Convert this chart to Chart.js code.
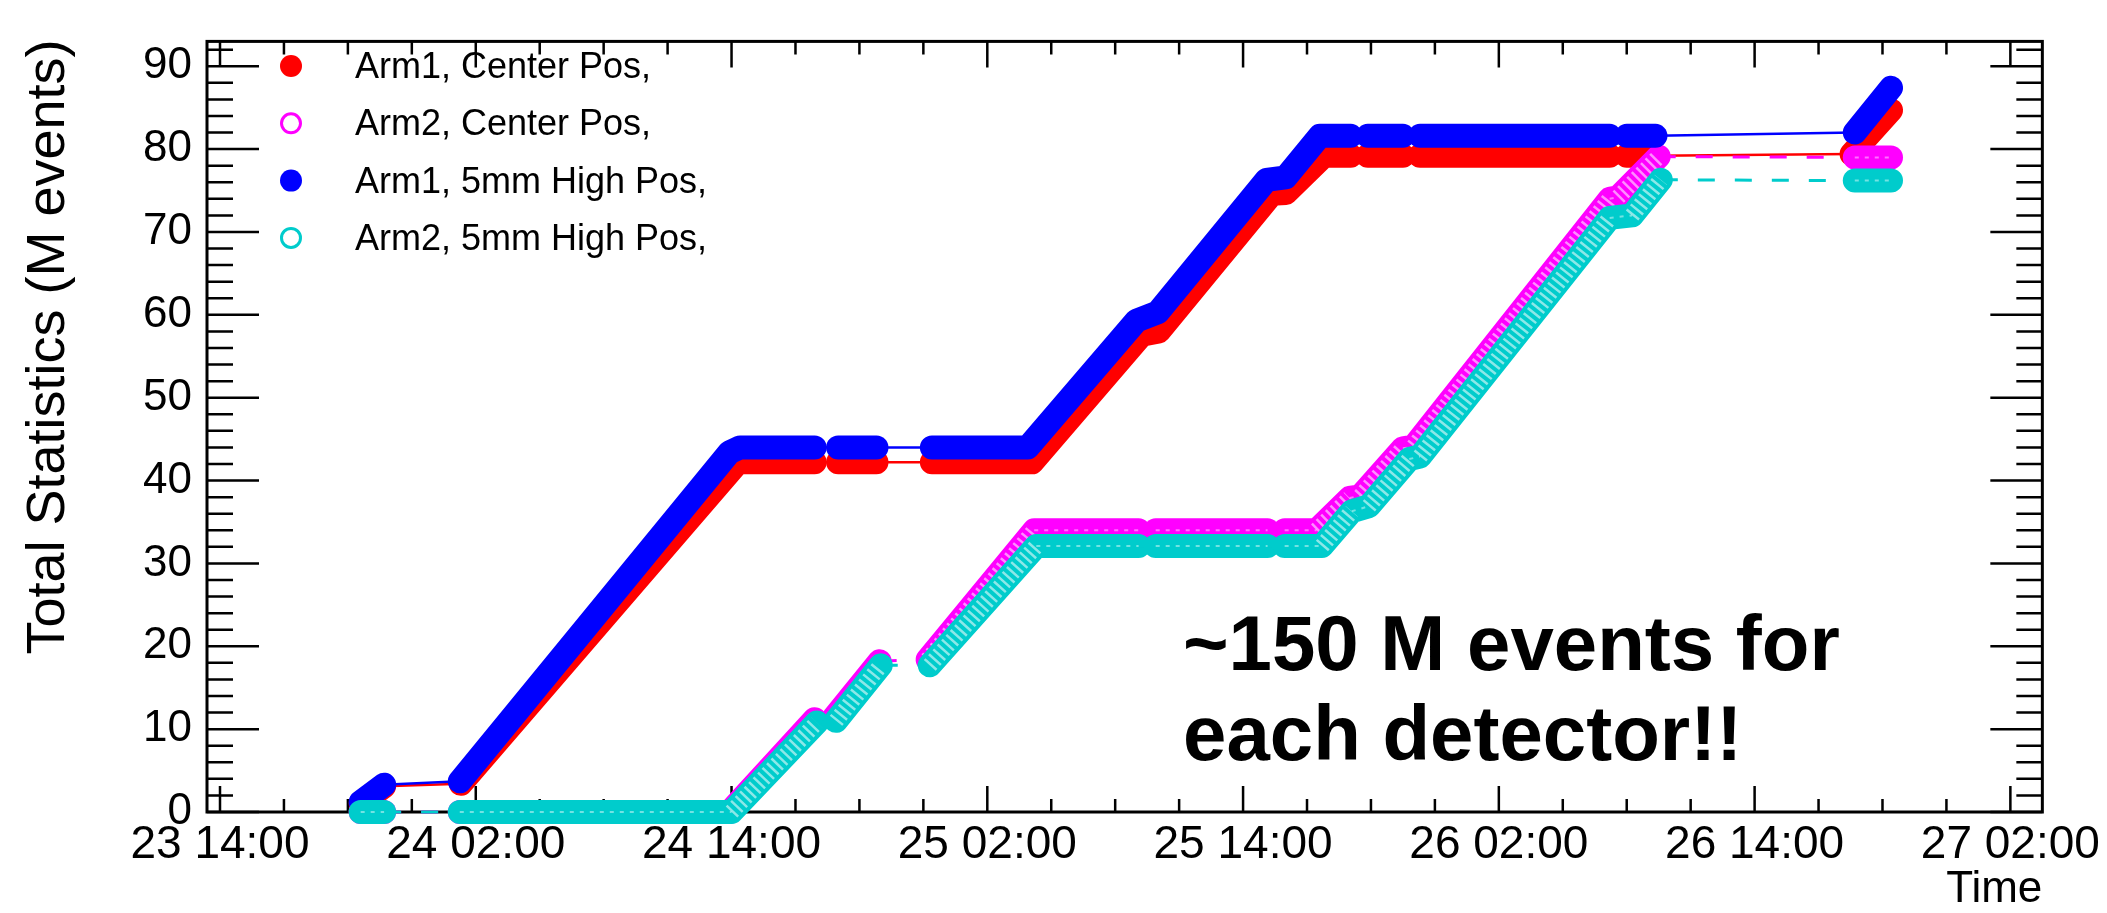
<!DOCTYPE html>
<html>
<head>
<meta charset="utf-8">
<title>Total Statistics</title>
<script src="https://cdn.jsdelivr.net/npm/chart.js@4.4.0/dist/chart.umd.min.js"></script>
<style>
  html, body { margin: 0; padding: 0; background: #fff; }
  #wrap { width: 2107px; height: 913px; }
</style>
</head>
<body>
<div id="wrap"><canvas id="totalStats" width="2107" height="913"></canvas></div>
<script>
// Hours are counted from day 23, 00:00
const timeTickHours  = [14, 26, 38, 50, 62, 74, 86, 98];
const timeTickLabels = ['23 14:00', '24 02:00', '24 14:00', '25 02:00', '25 14:00', '26 02:00', '26 14:00', '27 02:00'];
const statTicks = [0, 10, 20, 30, 40, 50, 60, 70, 80, 90];

const seriesLabels = ['Arm1, Center Pos,', 'Arm2, Center Pos,', 'Arm1, 5mm High Pos,', 'Arm2, 5mm High Pos,'];

// Arm1, Center Pos (red, full markers)
const arm1CenterHours = [20.6, 21.7, 25.3, 38.3, 41.9, 43.0, 44.8, 47.4, 52.1, 57.25, 58.05, 63.35, 64.0, 65.8, 67.05, 67.85, 69.5, 70.3, 79.2, 80.0, 81.3, 90.55, 92.4];
const arm1CenterTotal = [1.0, 3.1, 3.4, 42.2, 42.2, 42.2, 42.2, 42.2, 42.2, 57.6, 58.0, 74.6, 74.7, 79.2, 79.2, 79.2, 79.2, 79.2, 79.2, 79.2, 79.2, 79.4, 84.7];
// 1 = data taken continuously between two points, 0 = no data
const arm1CenterRun   = [1, 0, 1, 1, 0, 1, 0, 1, 1, 1, 1, 1, 1, 1, 0, 1, 0, 1, 0, 1, 0, 1];

// Arm2, Center Pos (magenta, open markers)
const arm2CenterHours = [20.6, 21.7, 25.25, 37.9, 41.9, 42.8, 44.95, 47.2, 52.2, 57.1, 57.9, 63.15, 63.95, 65.45, 67.0, 67.5, 69.5, 70.0, 79.2, 79.6, 81.5, 90.7, 92.4];
const arm2CenterTotal = [0, 0, 0, 0, 11.2, 11.4, 18.2, 18.4, 34.0, 34.0, 34.0, 34.0, 34.0, 34.0, 37.9, 38.1, 43.9, 44.1, 74.0, 74.2, 79.1, 79.0, 79.0];
const arm2CenterRun   = [1, 0, 1, 1, 0, 1, 0, 1, 1, 0, 1, 0, 1, 1, 1, 1, 1, 1, 1, 1, 0, 1];

// Arm1, 5mm High Pos (blue, full markers)
const arm1HighHours = [20.6, 21.7, 25.25, 37.9, 38.4, 41.9, 43.0, 44.8, 47.4, 51.9, 57.0, 58.0, 63.1, 64.0, 65.6, 67.05, 67.85, 69.5, 70.3, 79.2, 80.0, 81.35, 90.7, 92.4];
const arm1HighTotal = [1.2, 3.3, 3.7, 43.4, 44.0, 44.0, 44.0, 44.0, 44.0, 44.0, 59.3, 60.3, 76.3, 76.6, 81.6, 81.6, 81.6, 81.6, 81.6, 81.6, 81.6, 81.6, 82.0, 87.4];
const arm1HighRun   = [1, 0, 1, 1, 1, 0, 1, 0, 1, 1, 1, 1, 1, 1, 1, 0, 1, 0, 1, 0, 1, 0, 1];

// Arm2, 5mm High Pos (cyan, open markers)
const arm2HighHours = [20.6, 21.7, 25.25, 38.0, 42.0, 42.9, 45.0, 47.3, 52.3, 57.1, 57.9, 63.15, 63.95, 65.7, 67.1, 67.9, 69.8, 70.3, 79.2, 80.25, 81.6, 90.7, 92.4];
const arm2HighTotal = [0, 0, 0, 0, 10.8, 11.0, 17.7, 17.7, 32.1, 32.1, 32.1, 32.1, 32.1, 32.1, 36.3, 36.9, 42.6, 42.9, 71.7, 72.0, 76.3, 76.2, 76.2];
const arm2HighRun   = [1, 0, 1, 1, 0, 1, 0, 1, 1, 0, 1, 0, 1, 1, 1, 1, 1, 1, 1, 1, 0, 1];

const BAND = 24;     // dense markers form a band one marker wide
const FONT = '"Liberation Sans", Arial, Helvetica, sans-serif';

function toPoints(hours, totals) {
    return hours.map((h, i) => ({ x: h, y: totals[i] }));
}

function series(label, hours, totals, run, color, hollow, order) {
    return {
        label: label,
        data: toPoints(hours, totals),
        borderColor: color,
        backgroundColor: color,
        borderWidth: BAND,
        borderCapStyle: 'round',
        borderJoinStyle: 'round',
        pointRadius: 0,
        pointHoverRadius: 0,
        tension: 0,
        clip: false,
        order: order,
        hollow: hollow,
        run: run,
        segment: {
            borderWidth: ctx => run[ctx.p0DataIndex] ? BAND : (hollow ? 3 : 2.5),
            borderDash: ctx => (run[ctx.p0DataIndex] || !hollow) ? [] : [17, 20],
            borderCapStyle: ctx => run[ctx.p0DataIndex] ? 'round' : 'butt'
        }
    };
}

// Frame, ROOT style ticks, legend and labels
const frameAndText = {
    id: 'frameAndText',
    beforeDatasetsDraw(chart) {
        const { ctx, chartArea: a, scales: { x, y } } = chart;
        ctx.save();
        ctx.strokeStyle = '#000';
        ctx.lineWidth = 2.5;
        ctx.beginPath();
        for (let h = timeTickHours[0]; h <= x.max; h += 3) {
            const px = x.getPixelForValue(h);
            const len = (h - timeTickHours[0]) % 12 === 0 ? 26 : 13;
            ctx.moveTo(px, a.bottom); ctx.lineTo(px, a.bottom - len);
            ctx.moveTo(px, a.top); ctx.lineTo(px, a.top + len);
        }
        for (let v = 0; v <= y.max; v += 2) {
            const py = y.getPixelForValue(v);
            const len = v % 10 === 0 ? 52 : 26;
            ctx.moveTo(a.left, py); ctx.lineTo(a.left + len, py);
            ctx.moveTo(a.right, py); ctx.lineTo(a.right - len, py);
        }
        ctx.stroke();
        ctx.lineWidth = 3;
        ctx.strokeRect(a.left, a.top, a.right - a.left, a.bottom - a.top);
        ctx.restore();
    },
    // open markers drawn densely leave white gaps between the rings
    afterDatasetDraw(chart, args) {
        const ds = chart.data.datasets[args.index];
        if (!ds.hollow) return;
        const pts = args.meta.data;
        const ctx = chart.ctx;
        ctx.save();
        ctx.strokeStyle = '#fff';
        ctx.lineCap = 'butt';
        for (let i = 0; i < pts.length - 1; i++) {
            if (!ds.run[i]) continue;
            const p0 = pts[i], p1 = pts[i + 1];
            const sloped = Math.abs(p1.y - p0.y) > 8;
            ctx.beginPath();
            ctx.moveTo(p0.x, p0.y);
            ctx.lineTo(p1.x, p1.y);
            if (sloped) {
                ctx.globalAlpha = 0.55;
                ctx.lineWidth = BAND - 8;
                ctx.setLineDash([2.5, 4]);
            } else {
                ctx.globalAlpha = 0.45;
                ctx.lineWidth = 2;
                ctx.setLineDash([4, 6]);
            }
            ctx.stroke();
        }
        ctx.restore();
    },
    afterDraw(chart) {
        const { ctx, chartArea: a } = chart;
        ctx.save();

        // legend
        ctx.font = '36px ' + FONT;
        ctx.textBaseline = 'middle';
        ctx.textAlign = 'left';
        chart.data.datasets.forEach((ds, i) => {
            const cy = 66 + i * 57.3;
            ctx.beginPath();
            if (ds.hollow) {
                ctx.arc(291, cy, 9.5, 0, Math.PI * 2);
                ctx.lineWidth = 3;
                ctx.strokeStyle = ds.borderColor;
                ctx.stroke();
            } else {
                ctx.arc(291, cy, 11, 0, Math.PI * 2);
                ctx.fillStyle = ds.borderColor;
                ctx.fill();
            }
            ctx.fillStyle = '#000';
            ctx.fillText(ds.label, 355, cy + 2);
        });

        // annotation
        ctx.font = 'bold 78px ' + FONT;
        ctx.textBaseline = 'alphabetic';
        ctx.fillStyle = '#000';
        ctx.fillText('~150 M events for', 1183, 670);
        ctx.fillText('each detector!!', 1183, 760);

        // axis titles
        ctx.font = '44px ' + FONT;
        ctx.textAlign = 'right';
        ctx.fillText('Time', a.right, 902);

        ctx.font = '54px ' + FONT;
        ctx.translate(64, a.top - 2);
        ctx.rotate(-Math.PI / 2);
        ctx.textAlign = 'right';
        ctx.fillText('Total Statistics (M events)', 0, 0);
        ctx.restore();
    }
};

const totalStats = new Chart(document.getElementById('totalStats'), {
    type: 'line',
    data: {
        datasets: [
            series(seriesLabels[0], arm1CenterHours, arm1CenterTotal, arm1CenterRun, '#ff0000', false, 4),
            series(seriesLabels[1], arm2CenterHours, arm2CenterTotal, arm2CenterRun, '#ff00ff', true, 3),
            series(seriesLabels[2], arm1HighHours, arm1HighTotal, arm1HighRun, '#0000ff', false, 2),
            series(seriesLabels[3], arm2HighHours, arm2HighTotal, arm2HighRun, '#00cccc', true, 1)
        ]
    },
    options: {
        responsive: false,
        devicePixelRatio: 1,
        animation: false,
        events: [],
        layout: {
            padding: { left: 0, right: 63, top: 18, bottom: 0 }
        },
        plugins: {
            legend: { display: false },
            tooltip: { enabled: false }
        },
        scales: {
            x: {
                type: 'linear',
                min: 13.39,
                max: 99.5,
                grid: { display: false, drawTicks: false },
                border: { display: false },
                afterBuildTicks: s => { s.ticks = timeTickHours.map(v => ({ value: v })); },
                afterFit: s => { s.height = 101; },
                ticks: {
                    autoSkip: false,
                    maxRotation: 0,
                    padding: 6,
                    color: '#000',
                    font: { size: 46, family: FONT },
                    callback: v => timeTickLabels[timeTickHours.indexOf(v)]
                }
            },
            y: {
                type: 'linear',
                min: 0,
                max: 93,
                grid: { display: false, drawTicks: false },
                border: { display: false },
                afterBuildTicks: s => { s.ticks = statTicks.map(v => ({ value: v })); },
                afterFit: s => { s.width = 207; },
                ticks: {
                    padding: 15,
                    color: '#000',
                    font: { size: 44, family: FONT }
                }
            }
        }
    },
    plugins: [frameAndText]
});
</script>
</body>
</html>
